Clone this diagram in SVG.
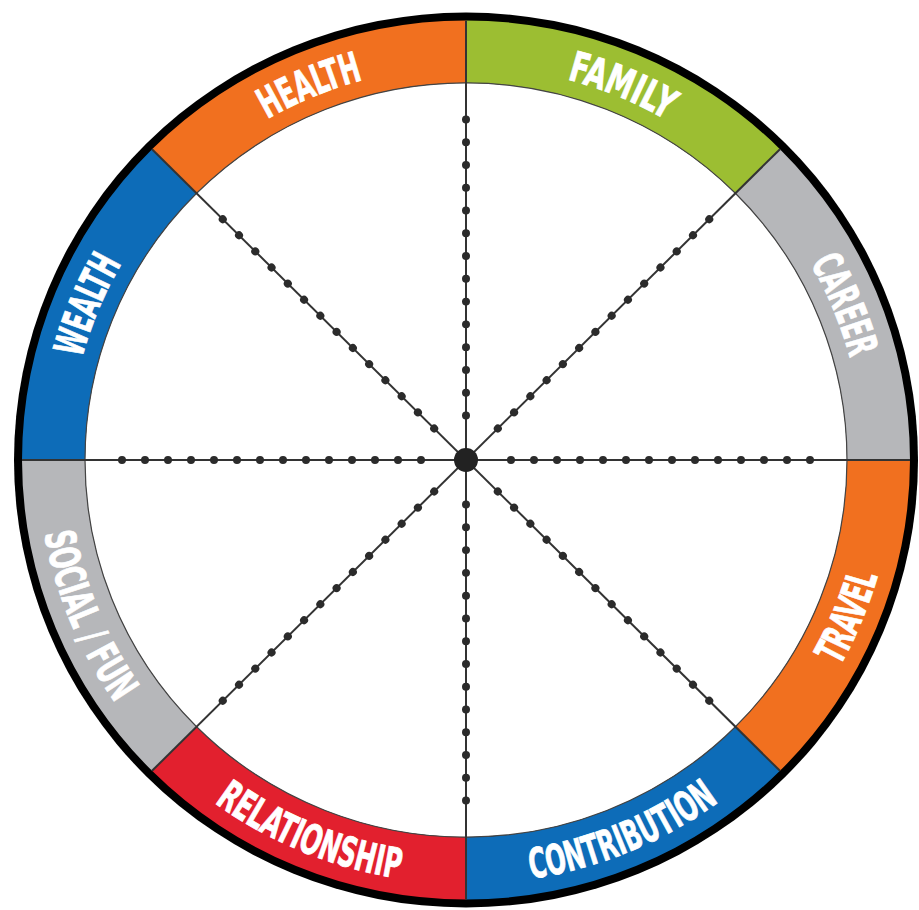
<svg xmlns="http://www.w3.org/2000/svg" width="919" height="910" viewBox="0 0 919 910">
<style>
.lbl{font-family:"Liberation Sans Narrow","DejaVu Sans Condensed","Liberation Sans",sans-serif;font-weight:bold;font-size:42px;fill:#ffffff;stroke:#ffffff;stroke-width:0.8}
.spoke{stroke:#333333;stroke-width:2;fill:none}
.dots{stroke:#2b2b2b;stroke-width:8;stroke-linecap:round;stroke-dasharray:0 23;fill:none}
.orange{fill:#F1701F}
.green{fill:#9CBE32}
.gray{fill:#B6B7BA}
.blue{fill:#0D6CB8}
.red{fill:#E2202E}
</style>
<defs>
<path id="arcTop" d="M-255.5,-304.5 A397.5,397.5 0 0 1 255.5,-304.5"/>
<path id="arcBot" d="M-275.1,327.9 A428,428 0 0 0 275.1,327.9"/>
<line id="ray" x1="0" y1="-45" x2="0" y2="-352" class="dots"/>
</defs>
<rect width="919" height="910" fill="#ffffff"/>
<g transform="translate(466,460) scale(1,0.99)">
  <g id="wheel">
    <circle r="452" fill="#000000"/>
    <circle r="381" fill="#ffffff"/>
  </g>
  <g id="family">
    <path class="green" d="M0,-444 A444,444 0 0 1 313.96,-313.96 L269.41,-269.41 A381,381 0 0 0 0,-381 Z"/>
    <text class="lbl" transform="rotate(22.5)"><textPath href="#arcTop" startOffset="50%" text-anchor="middle" textLength="108" lengthAdjust="spacingAndGlyphs">FAMILY</textPath></text>
  </g>
  <g id="career">
    <path class="gray" d="M313.96,-313.96 A444,444 0 0 1 444,0 L381,0 A381,381 0 0 0 269.41,-269.41 Z"/>
    <text class="lbl" transform="rotate(67.5)"><textPath href="#arcTop" startOffset="50%" text-anchor="middle" textLength="104" lengthAdjust="spacingAndGlyphs">CAREER</textPath></text>
  </g>
  <g id="travel">
    <path class="orange" d="M444,0 A444,444 0 0 1 313.96,313.96 L269.41,269.41 A381,381 0 0 0 381,0 Z"/>
    <text class="lbl" transform="rotate(-67.5)"><textPath href="#arcBot" startOffset="50%" text-anchor="middle" textLength="99" lengthAdjust="spacingAndGlyphs">TRAVEL</textPath></text>
  </g>
  <g id="contribution">
    <path class="blue" d="M313.96,313.96 A444,444 0 0 1 0,444 L0,381 A381,381 0 0 0 269.41,269.41 Z"/>
    <text class="lbl" transform="rotate(-22.5)"><textPath href="#arcBot" startOffset="50%" text-anchor="middle" textLength="205" lengthAdjust="spacingAndGlyphs">CONTRIBUTION</textPath></text>
  </g>
  <g id="relationship">
    <path class="red" d="M0,444 A444,444 0 0 1 -313.96,313.96 L-269.41,269.41 A381,381 0 0 0 0,381 Z"/>
    <text class="lbl" transform="rotate(22.5)"><textPath href="#arcBot" startOffset="50%" text-anchor="middle" textLength="202" lengthAdjust="spacingAndGlyphs">RELATIONSHIP</textPath></text>
  </g>
  <g id="social-fun">
    <path class="gray" d="M-313.96,313.96 A444,444 0 0 1 -444,0 L-381,0 A381,381 0 0 0 -269.41,269.41 Z"/>
    <text class="lbl" transform="rotate(67.5)"><textPath href="#arcBot" startOffset="50%" text-anchor="middle" textLength="187" lengthAdjust="spacingAndGlyphs">SOCIAL / FUN</textPath></text>
  </g>
  <g id="wealth">
    <path class="blue" d="M-444,0 A444,444 0 0 1 -313.96,-313.96 L-269.41,-269.41 A381,381 0 0 0 -381,0 Z"/>
    <text class="lbl" transform="rotate(-67.5)"><textPath href="#arcTop" startOffset="50%" text-anchor="middle" textLength="104" lengthAdjust="spacingAndGlyphs">WEALTH</textPath></text>
  </g>
  <g id="health">
    <path class="orange" d="M-313.96,-313.96 A444,444 0 0 1 0,-444 L0,-381 A381,381 0 0 0 -269.41,-269.41 Z"/>
    <text class="lbl" transform="rotate(-22.5)"><textPath href="#arcTop" startOffset="50%" text-anchor="middle" textLength="104" lengthAdjust="spacingAndGlyphs">HEALTH</textPath></text>
  </g>
  <circle r="381" fill="none" stroke="#444444" stroke-width="1.2"/>
  <g id="connectors">
    <line class="spoke" x1="-444" y1="0" x2="444" y2="0"/>
    <line class="spoke" x1="0" y1="-444" x2="0" y2="444"/>
    <line class="spoke" x1="-313.96" y1="-313.96" x2="313.96" y2="313.96"/>
    <line class="spoke" x1="313.96" y1="-313.96" x2="-313.96" y2="313.96"/>
    <use href="#ray"/>
    <use href="#ray" transform="rotate(45)"/>
    <use href="#ray" transform="rotate(90)"/>
    <use href="#ray" transform="rotate(135)"/>
    <use href="#ray" transform="rotate(180)"/>
    <use href="#ray" transform="rotate(225)"/>
    <use href="#ray" transform="rotate(270)"/>
    <use href="#ray" transform="rotate(315)"/>
    <circle r="12" fill="#222222"/>
  </g>
</g>
</svg>
